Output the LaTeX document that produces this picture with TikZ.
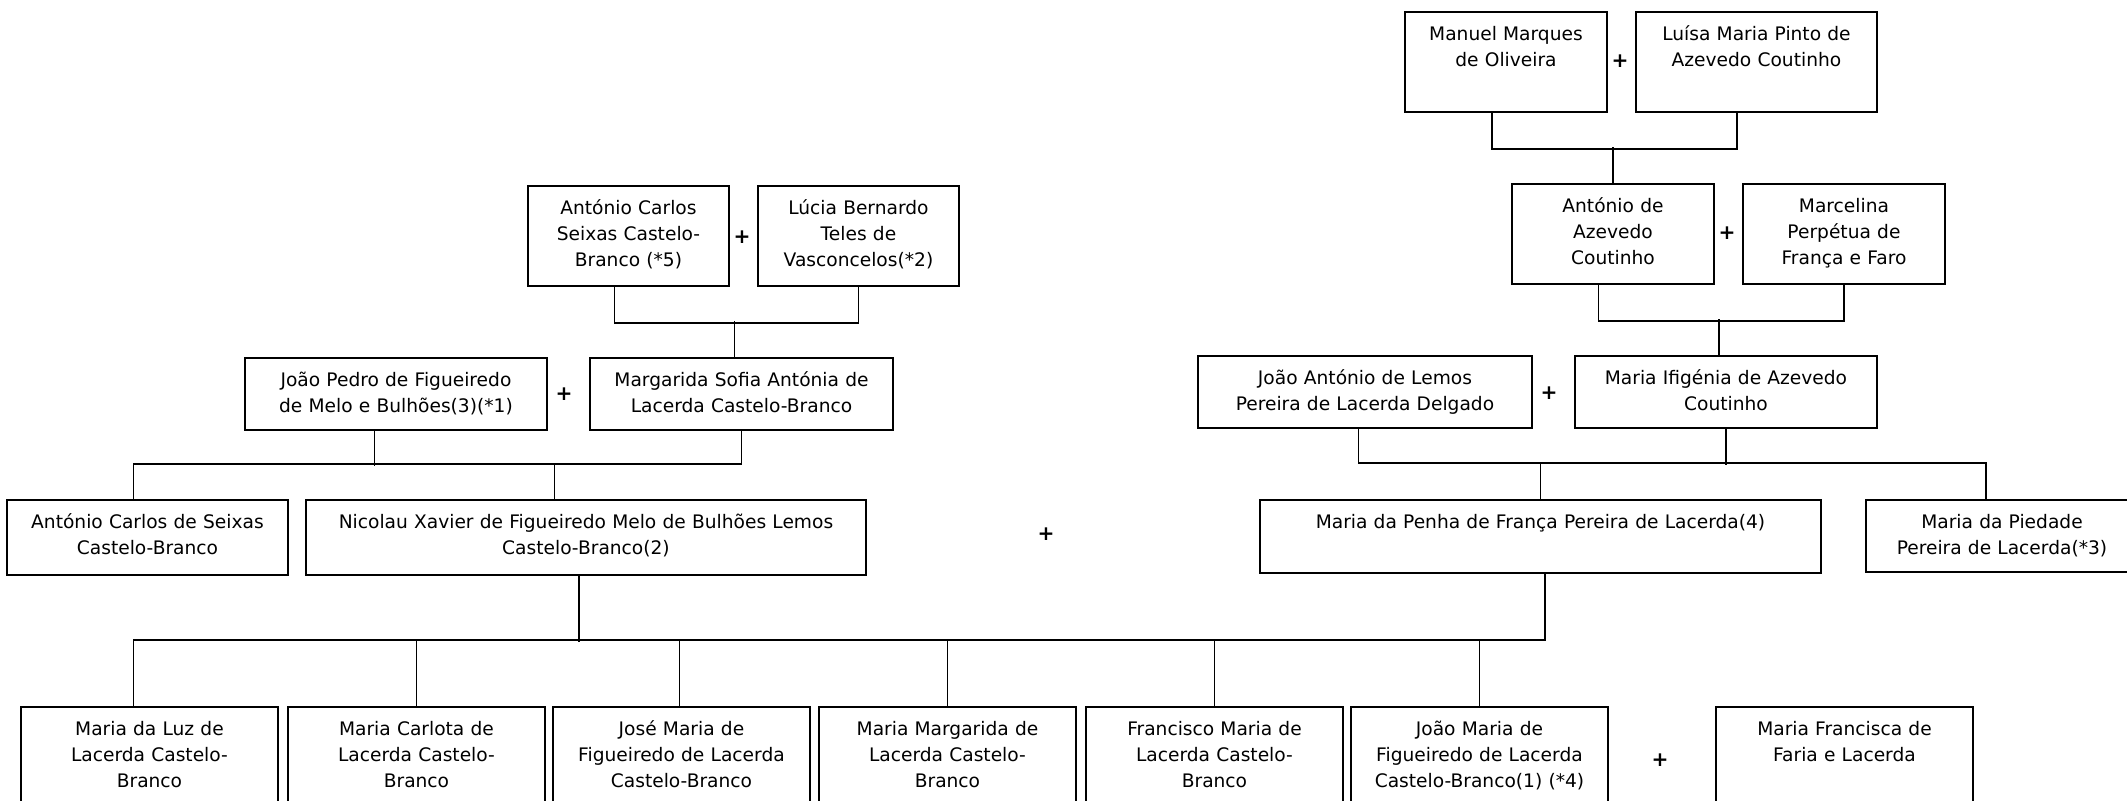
\documentclass[tikz,border=0pt]{standalone}
\usepackage{fontspec}
\setmainfont{DejaVu Sans}

\begin{document}
\begin{tikzpicture}[x=0.2mm, y=-0.2mm,
    person/.style 2 args={draw, line width=1.1pt, anchor=north west, inner sep=0pt,
        text width=#1, text height=5.8mm, text depth=#2, align=center,
        font=\fontsize{10.6pt}{14.8pt}\selectfont},
    plus/.style={inner sep=0pt, font=\fontsize{11.5pt}{13pt}\selectfont\bfseries},
    link/.style={line width=1pt}]
    \useasboundingbox (0,0) rectangle (2127,800);
    \clip (0,0) rectangle (2127,800);

    % Figueiredo side
    \node[person={40.2mm}{14.2mm}] (antonioSeixas) at (527,185) {António Carlos\\Seixas Castelo-\\Branco (*5)};
    \node[person={40.2mm}{14.2mm}] (lucia) at (757,185) {Lúcia Bernardo\\Teles de\\Vasconcelos(*2)};
    \node[person={60.4mm}{8.6mm}] (joaoPedro) at (244,357) {João Pedro de Figueiredo\\de Melo e Bulhões(3)(*1)};
    \node[person={60.6mm}{8.6mm}] (margarida) at (589,357) {Margarida Sofia Antónia de\\Lacerda Castelo-Branco};
    \node[person={56.2mm}{9.2mm}] (antonioCarlos) at (6,499) {António Carlos de Seixas\\Castelo-Branco};
    \node[person={112mm}{9.2mm}] (nicolau) at (305,499) {Nicolau Xavier de Figueiredo Melo de Bulhões Lemos\\Castelo-Branco(2)};

    % Lacerda side
    \node[person={40.4mm}{14.2mm}] (manuel) at (1404,11) {Manuel Marques\\de Oliveira};
    \node[person={48.2mm}{14.2mm}] (luisa) at (1635,11) {Luísa Maria Pinto de\\Azevedo Coutinho};
    \node[person={40.4mm}{14.2mm}] (antonioAz) at (1511,183) {António de\\Azevedo\\Coutinho};
    \node[person={40.4mm}{14.2mm}] (marcelina) at (1742,183) {Marcelina\\Perpétua de\\França e Faro};
    \node[person={66.8mm}{8.6mm}] (joaoLemos) at (1197,355) {João António de Lemos\\Pereira de Lacerda Delgado};
    \node[person={60.4mm}{8.6mm}] (ifigenia) at (1574,355) {Maria Ifigénia de Azevedo\\Coutinho};
    \node[person={112.2mm}{8.8mm}] (penha) at (1259,499) {Maria da Penha de França Pereira de Lacerda(4)};
    \node[person={54.4mm}{8.6mm}] (piedade) at (1865,499) {Maria da Piedade\\Pereira de Lacerda(*3)};

    % Children
    \node[person={51.4mm}{14.2mm}] (luz) at (20,706) {Maria da Luz de\\Lacerda Castelo-\\Branco};
    \node[person={51.4mm}{14.2mm}] (carlota) at (287,706) {Maria Carlota de\\Lacerda Castelo-\\Branco};
    \node[person={51.4mm}{14.2mm}] (jose) at (552,706) {José Maria de\\Figueiredo de Lacerda\\Castelo-Branco};
    \node[person={51.4mm}{14.2mm}] (margaridaM) at (818,706) {Maria Margarida de\\Lacerda Castelo-\\Branco};
    \node[person={51.4mm}{14.2mm}] (francisco) at (1085,706) {Francisco Maria de\\Lacerda Castelo-\\Branco};
    \node[person={51.4mm}{14.2mm}] (joaoMaria) at (1350,706) {João Maria de\\Figueiredo de Lacerda\\Castelo-Branco(1) (*4)};
    \node[person={51.4mm}{14.2mm}] (mariaFrancisca) at (1715,706) {Maria Francisca de\\Faria e Lacerda};

    % Marriages
    \node[plus] (plusSeixas) at (742,237) {+};
    \node[plus] (plusFigueiredo) at (564,394) {+};
    \node[plus] (plusManuel) at (1620,61) {+};
    \node[plus] (plusAzevedo) at (1727,233) {+};
    \node[plus] (plusLemos) at (1549,393) {+};
    \node[plus] (plusNicolau) at (1046,534) {+};
    \node[plus] (plusJoaoMaria) at (1660,760) {+};

    % Descent lines
    \draw[link] ([xshift=-2.8mm]antonioSeixas.south) -- ++(0,36) -| (lucia.south);
    \draw[link] ([xshift=-1.4mm]margarida.north) -- ++(0,-36);
    \draw[link] ([xshift=-2.8mm]antonioCarlos.north) -- ++(0,-35) -| (margarida.south);
    \draw[link] ([xshift=-4.3mm]joaoPedro.south) -- ++(0,35);
    \draw[link] ([xshift=-6.3mm]nicolau.north) -- ++(0,-35);

    \draw[link] ([xshift=-2.8mm]manuel.south) -- ++(0,36) -| ([xshift=-3.9mm]luisa.south);
    \draw[link] (antonioAz.north) -- ++(0,-36);
    \draw[link] ([xshift=-2.9mm]antonioAz.south) -- ++(0,36) -| (marcelina.south);
    \draw[link] ([xshift=-1.4mm]ifigenia.north) -- ++(0,-36);
    \draw[link] ([xshift=-3.2mm]piedade.north) -- ++(0,-36) -| ([xshift=-1.3mm]joaoLemos.south);
    \draw[link] (ifigenia.south) -- ++(0,36);
    \draw[link] (penha.north) -- ++(0,-36);

    \draw[link] ([xshift=-3.2mm]luz.north) -- ++(0,-66) -| ([xshift=0.9mm]penha.south);
    \draw[link] ([xshift=-1.4mm]nicolau.south) -- ++(0,66);
    \draw[link] (carlota.north) -- ++(0,-66);
    \draw[link] ([xshift=-0.4mm]jose.north) -- ++(0,-66);
    \draw[link] (margaridaM.north) -- ++(0,-66);
    \draw[link] (francisco.north) -- ++(0,-66);
    \draw[link] (joaoMaria.north) -- ++(0,-66);
\end{tikzpicture}
\end{document}
